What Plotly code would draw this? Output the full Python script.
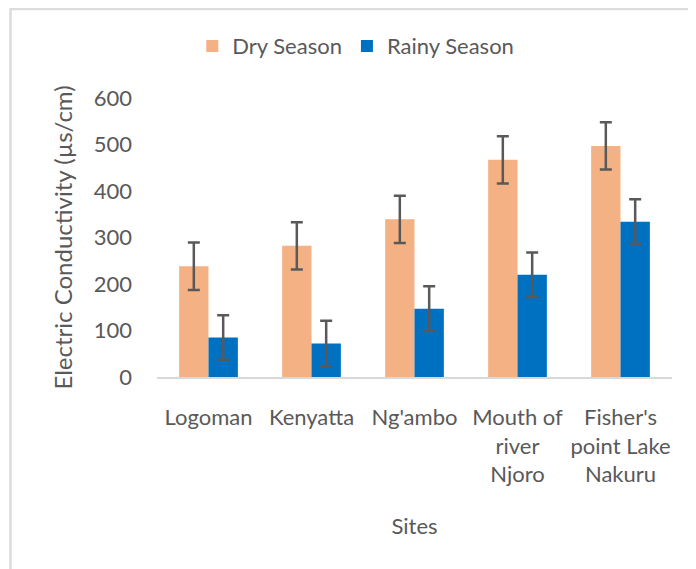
import plotly.graph_objects as go

sites = ["Logoman", "Kenyatta", "Ng'ambo", "Mouth of<br>river<br>Njoro", "Fisher's<br>point Lake<br>Nakuru"]
dry_season = [238, 282, 339, 467, 497]
rainy_season = [85, 72, 147, 220, 334]
dry_err = [51, 51, 51, 51, 51]
rainy_err = [48, 49, 48, 48, 48]
y_ticks = [0, 100, 200, 300, 400, 500, 600]

FONT = "Lato"
TXT = "#595959"

# page body has an 8px default margin, so the figure is 8px smaller than the window
W, H = 688, 561
L, T = 149, 90           # plot area starts at (157, 98) in the window
PW, PH = 515, 279        # plot area size

fig = go.Figure()
fig.add_trace(go.Bar(
    x=sites, y=dry_season, name="Dry Season",
    marker=dict(color="#F4B183", line=dict(width=0)),
    error_y=dict(type="data", array=dry_err, color="#595959", thickness=2.5, width=6),
))
fig.add_trace(go.Bar(
    x=sites, y=rainy_season, name="Rainy Season",
    marker=dict(color="#0070C0", line=dict(width=0)),
    error_y=dict(type="data", array=rainy_err, color="#595959", thickness=2.5, width=6),
))

fig.update_layout(
    width=W, height=H,
    margin=dict(l=L, r=W - L - PW, t=T, b=H - T - PH),
    paper_bgcolor="white", plot_bgcolor="white",
    barmode="group", bargap=0.43, bargroupgap=0,
    font=dict(family=FONT, size=21, color=TXT),
    legend=dict(orientation="h", x=0.386, xanchor="center", y=1.186, yanchor="middle",
                font=dict(size=22, color=TXT), itemwidth=30, traceorder="normal"),
    xaxis=dict(showline=True, linecolor="#d9d9d9", linewidth=1.5, showgrid=False,
               ticks="", tickfont=dict(size=22, color=TXT), ticklabelstandoff=20,
               title=dict(text="Sites", font=dict(size=22, color=TXT), standoff=32)),
    yaxis=dict(range=[0, 600], tickvals=y_ticks, showgrid=False, zeroline=False,
               showline=False, ticks="", tickfont=dict(size=22, color=TXT),
               ticklabelstandoff=24,
               title=dict(text="Electric Conductivity (µs/cm)", font=dict(size=24, color=TXT), standoff=14)),
    shapes=[dict(type="rect", xref="paper", yref="paper",
                 x0=(10.5 - 157) / PW, x1=(720 - 157) / PW,
                 y0=(377 - 600) / PH, y1=(377 - 9) / PH,
                 line=dict(color="#dcdcdc", width=2.5), fillcolor="rgba(0,0,0,0)", layer="below")],
)

fig.write_html("out.html")
